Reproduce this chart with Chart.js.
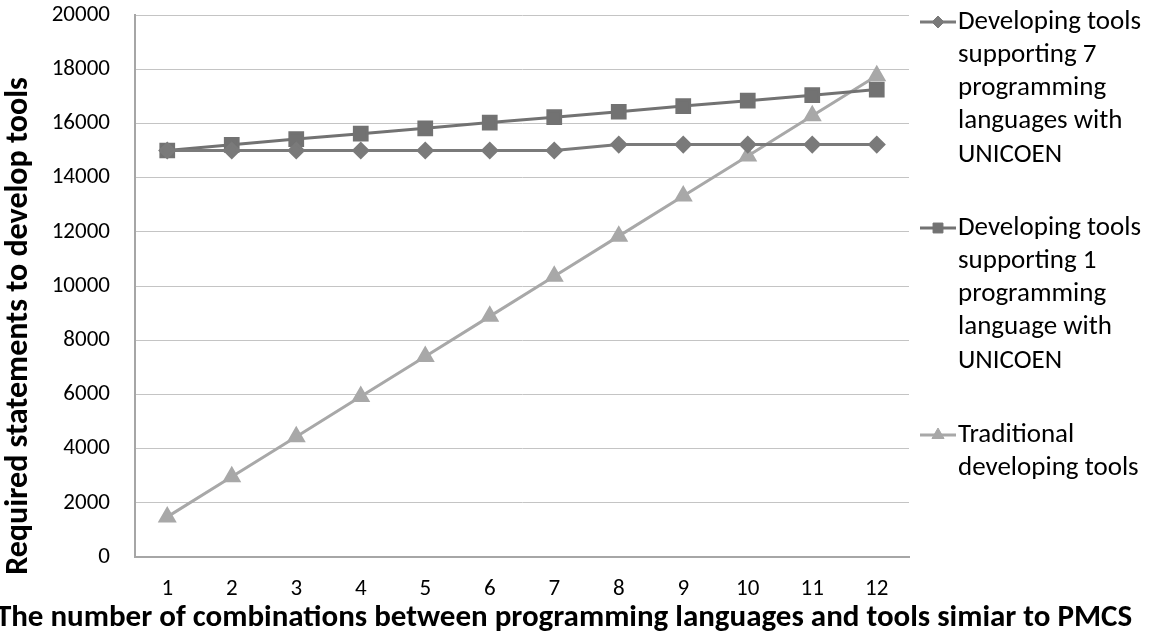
<!DOCTYPE html>
<html>
<head>
<meta charset="utf-8">
<script src="https://cdn.jsdelivr.net/npm/chart.js@4/dist/chart.umd.min.js"></script>
<style>
  body { margin: 0; background: #fff; }
  #wrap { width: 1152px; height: 636px; position: relative; }
</style>
</head>
<body>
<div id="wrap"><canvas id="chartTools" width="1152" height="636"></canvas></div>
<script>
// categories (number of combinations)
const combos = ['1', '2', '3', '4', '5', '6', '7', '8', '9', '10', '11', '12'];
// series values
const unicoen7 = [15000, 15000, 15000, 15000, 15000, 15000, 15000, 15220, 15220, 15220, 15220, 15220];
const unicoen1 = [15000, 15210, 15420, 15620, 15820, 16030, 16230, 16430, 16640, 16840, 17040, 17250];
const traditional = [1480, 2960, 4440, 5920, 7400, 8880, 10360, 11840, 13320, 14800, 16280, 17760];
const legendLabels = [
  ['Developing tools', 'supporting 7', 'programming', 'languages with', 'UNICOEN'],
  ['Developing tools', 'supporting 1', 'programming', 'language with', 'UNICOEN'],
  ['Traditional', 'developing tools']
];
const yTicks = [0, 2000, 4000, 6000, 8000, 10000, 12000, 14000, 16000, 18000, 20000];
const xTitle = 'The number of combinations between programming languages and tools simiar to PMCS';
const yTitle = 'Required statements to develop tools';

const cDark = '#7a7a7a';
const cSquare = '#727272';
const cLight = '#a8a8a8';
const fontFam = 'Calibri, Carlito, "Open Sans", "Liberation Sans", sans-serif';

// legend + axis titles drawn by hand (wrapped labels, title centred on the page)
const sideLegend = {
  id: 'sideLegend',
  afterDraw(chart) {
    const ctx = chart.ctx;
    const tops = [22, 228, 435];
    const styles = ['rectRot', 'rect', 'triangle'];
    const radii = [6, 7, 7];
    ctx.save();
    ctx.font = '27px ' + fontFam;
    ctx.textBaseline = 'middle';
    chart.data.datasets.forEach((ds, i) => {
      const y = tops[i];
      ctx.strokeStyle = ds.borderColor;
      ctx.lineWidth = 3;
      ctx.beginPath();
      ctx.moveTo(920, y);
      ctx.lineTo(956, y);
      ctx.stroke();
      ctx.fillStyle = ds.borderColor;
      ctx.lineWidth = 1;
      Chart.helpers.drawPoint(ctx, {pointStyle: styles[i], radius: radii[i], borderWidth: 1}, 938, y);
      ctx.fillStyle = '#000';
      legendLabels[i].forEach((line, k) => {
        ctx.fillText(line, 958, y + k * 33.2);
      });
    });

    ctx.font = 'bold 31px ' + fontFam;
    ctx.textAlign = 'center';
    ctx.fillText(xTitle, 564, 618);
    ctx.font = 'bold 32px ' + fontFam;
    ctx.translate(19, 326);
    ctx.rotate(-Math.PI / 2);
    ctx.fillText(yTitle, 0, 0);
    ctx.restore();
  }
};

const mkSet = (label, data, color, style, r) => ({
  label: label,
  data: data,
  borderColor: color,
  backgroundColor: color,
  borderWidth: 3,
  pointStyle: style,
  pointRadius: r,
  pointHoverRadius: r,
  tension: 0
});

const chartTools = new Chart(document.getElementById('chartTools'), {
  type: 'line',
  data: {
    labels: combos,
    datasets: [
      mkSet(legendLabels[0].join(' '), unicoen7, cDark, 'rectRot', 7),
      mkSet(legendLabels[1].join(' '), unicoen1, cSquare, 'rect', 9),
      mkSet(legendLabels[2].join(' '), traditional, cLight, 'triangle', 8)
    ]
  },
  options: {
    responsive: false,
    animation: false,
    layout: { padding: { top: 15, right: 243, bottom: 0, left: 0 } },
    plugins: {
      legend: { display: false },
      tooltip: { enabled: false }
    },
    scales: {
      x: {
        offset: true,
        afterFit: (axis) => { axis.height = 79; axis.paddingLeft = 0; axis.paddingRight = 0; },
        grid: { display: false, drawTicks: false },
        border: { color: '#a6a6a6', width: 2 },
        ticks: { color: '#000', font: { family: fontFam, size: 23 }, padding: 18 }
      },
      y: {
        min: 0,
        max: 20000,
        afterBuildTicks: (axis) => { axis.ticks = yTicks.map(v => ({ value: v })); },
        afterFit: (axis) => { axis.width = 135; axis.paddingTop = 0; axis.paddingBottom = 0; },
        grid: { color: '#c4c4c4', lineWidth: 1, drawTicks: false },
        border: { color: '#a6a6a6', width: 2 },
        ticks: {
          color: '#000',
          font: { family: fontFam, size: 23 },
          padding: 25,
          callback: (v) => String(v)
        }
      }
    }
  },
  plugins: [sideLegend]
});
</script>
</body>
</html>
